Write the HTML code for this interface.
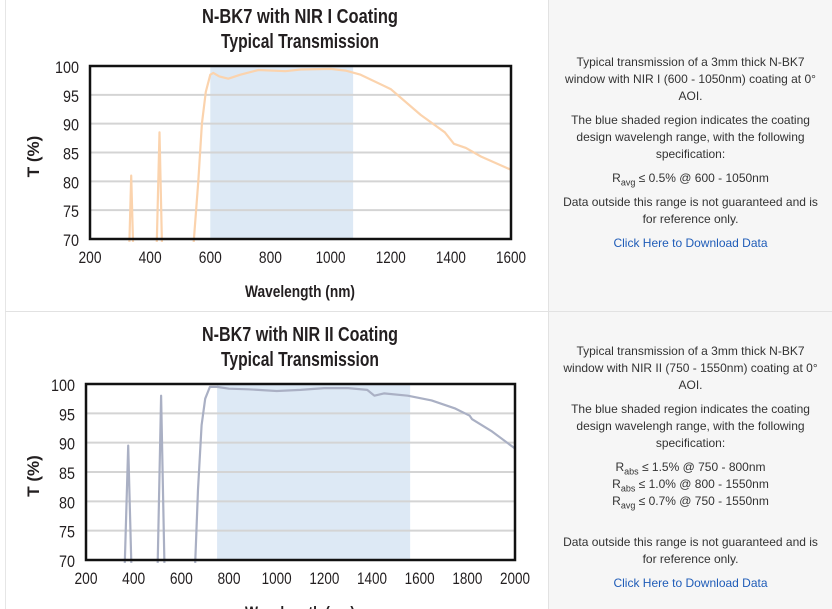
<!DOCTYPE html>
<html><head><meta charset="utf-8"><style>
body{margin:0;width:832px;height:609px;overflow:hidden;background:#fff;font-family:"Liberation Sans",sans-serif;position:relative}
.r{position:absolute;left:549px;width:283px;background:#f6f6f6;text-align:center;font-size:12px;line-height:17px;color:#333}
.r p{margin:0 0 7px 0}
a{color:#1f5cb8;text-decoration:none}
sub{font-size:9px;line-height:0}
</style></head><body>
<div style="position:absolute;left:5px;top:0;width:1px;height:609px;background:#e6e6e6"></div>
<div style="position:absolute;left:548px;top:0;width:1px;height:609px;background:#e2e2e2"></div>
<div style="position:absolute;left:5px;top:311px;width:827px;height:1px;background:#e2e2e2"></div>
<div class="r" style="top:0;height:311px"><div style="padding-top:54px">
<p>Typical transmission of a 3mm thick N-BK7<br>window with NIR I (600 - 1050nm) coating at 0°<br>AOI.</p>
<p>The blue shaded region indicates the coating<br>design wavelengh range, with the following<br>specification:</p>
<p>R<sub>avg</sub> ≤ 0.5% @ 600 - 1050nm</p>
<p>Data outside this range is not guaranteed and is<br>for reference only.</p>
<p><a>Click Here to Download Data</a></p></div></div>
<div class="r" style="top:312px;height:297px"><div style="padding-top:31px">
<p>Typical transmission of a 3mm thick N-BK7<br>window with NIR II (750 - 1550nm) coating at 0°<br>AOI.</p>
<p>The blue shaded region indicates the coating<br>design wavelengh range, with the following<br>specification:</p>
<p style="margin-bottom:24px">R<sub>abs</sub> ≤ 1.5% @ 750 - 800nm<br>R<sub>abs</sub> ≤ 1.0% @ 800 - 1550nm<br>R<sub>avg</sub> ≤ 0.7% @ 750 - 1550nm</p>
<p>Data outside this range is not guaranteed and is<br>for reference only.</p>
<p><a>Click Here to Download Data</a></p></div></div>
<svg id="s" width="548" height="609" style="position:absolute;left:0;top:0" font-family="Liberation Sans, sans-serif"></svg>
<script>
var s=document.getElementById('s'),h='';
function chart(o){
 var X=function(w){return o.x0+(w-o.w0)*(o.x1-o.x0)/(o.w1-o.w0)},Y=function(t){return o.y1-(t-70)*(o.y1-o.y0)/30};
 h+='<text x="'+o.tx+'" y="'+(o.y0-43)+'" font-size="20" font-weight="bold" text-anchor="middle" fill="#231f20" textLength="196" lengthAdjust="spacingAndGlyphs">'+o.t+'</text>';
 h+='<text x="'+o.tx+'" y="'+(o.y0-18)+'" font-size="20" font-weight="bold" text-anchor="middle" fill="#231f20" textLength="158" lengthAdjust="spacingAndGlyphs">Typical Transmission</text>';
 h+='<rect x="'+X(o.s0)+'" y="'+o.y0+'" width="'+(X(o.s1)-X(o.s0))+'" height="'+(o.y1-o.y0)+'" fill="#dde9f5"/>';
 for(var t=75;t<100;t+=5)h+='<line x1="'+o.x0+'" x2="'+o.x1+'" y1="'+Y(t)+'" y2="'+Y(t)+'" stroke="#d4d4d4" stroke-width="2"/>';
 for(var t=70;t<=100;t+=5)h+='<text x="'+(o.x0-11)+'" y="'+(Y(t)+7)+'" font-size="17" text-anchor="end" fill="#231f20" textLength="'+(t==100?24:16)+'" lengthAdjust="spacingAndGlyphs">'+t+'</text>';
 for(var w=o.w0;w<=o.w1;w+=200)h+='<text x="'+X(w)+'" y="'+(o.y1+24)+'" font-size="17" text-anchor="middle" fill="#231f20" textLength="'+(w>=1000?30:23)+'" lengthAdjust="spacingAndGlyphs">'+w+'</text>';
 h+='<text x="'+o.tx+'" y="'+(o.y1+58)+'" font-size="17" font-weight="bold" text-anchor="middle" fill="#231f20" textLength="110" lengthAdjust="spacingAndGlyphs">Wavelength (nm)</text>';
 h+='<text transform="translate(39,'+((o.y0+o.y1)/2+4)+') rotate(-90)" font-size="17" font-weight="bold" text-anchor="middle" fill="#231f20">T (%)</text>';
 o.c.forEach(function(seg){var d='';seg.forEach(function(p,i){d+=(i?'L':'M')+X(p[0]).toFixed(1)+' '+Y(p[1]).toFixed(1)});
 h+='<path d="'+d+'" fill="none" stroke="'+o.col+'" stroke-width="2.2" stroke-linejoin="round"/>';});
 h+='<rect x="'+o.x0+'" y="'+o.y0+'" width="'+(o.x1-o.x0)+'" height="'+(o.y1-o.y0)+'" fill="none" stroke="#111" stroke-width="2.5"/>';
}
chart({x0:90,x1:511,y0:66,y1:239,w0:200,w1:1600,s0:600,s1:1075,tx:300,t:'N-BK7 with NIR I Coating',col:'#fbd3ad',
c:[[[331,69.5],[337,81],[343,69.5]],[[422,69.5],[431,88.5],[439,69.5]],
[[545,69.5],[560,80],[572,90],[585,95.5],[600,98.5],[610,98.8],[630,98.2],[660,97.8],[700,98.5],[760,99.3],[850,99.1],[900,99.4],[1000,99.5],[1050,99.2],[1100,98.5],[1200,96],[1300,91.5],[1380,88.5],[1410,86.5],[1450,85.8],[1500,84.3],[1600,82]]]});
chart({x0:86,x1:515,y0:384,y1:560,w0:200,w1:2000,s0:750,s1:1560,tx:300,t:'N-BK7 with NIR II Coating',col:'#aab0c4',
c:[[[363,69.5],[377,89.5],[390,69.5]],[[501,69.5],[515,98],[529,69.5]],
[[658,69.5],[670,82],[685,93],[700,97.5],[720,99.5],[750,99.5],[800,99.2],[880,99.1],[1000,98.8],[1100,99],[1200,99.3],[1300,99.3],[1380,99],[1410,98],[1450,98.4],[1550,98],[1650,97.2],[1750,95.8],[1810,94.6],[1820,94],[1900,92],[2000,89]]]});
s.innerHTML=h;
</script>
</body></html>
